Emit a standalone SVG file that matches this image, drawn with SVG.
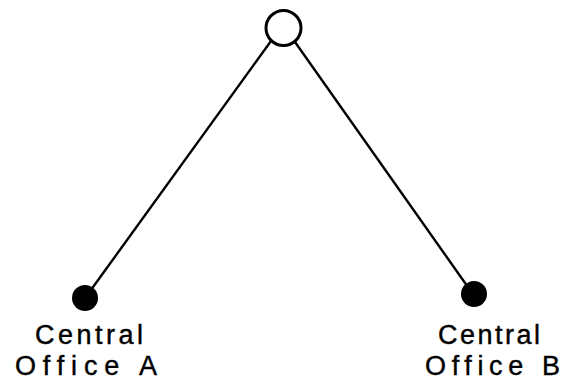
<svg xmlns="http://www.w3.org/2000/svg" width="566" height="381" viewBox="0 0 566 381">
  <style>
    .link { stroke: #000; stroke-width: 2.4; fill: none; }
    .hub { fill: #fff; stroke: #000; stroke-width: 3; }
    .office { fill: #000; }
    .label { font-family: "Liberation Sans", "DejaVu Sans", sans-serif; font-size: 27px; fill: #000; stroke: #000; stroke-width: 0.4; font-variant-ligatures: none; font-feature-settings: "liga" 0; }
  </style>
  <rect width="566" height="381" fill="#fff"/>
  <g id="connectors">
    <line class="link" x1="271" y1="41" x2="88" y2="294"/>
    <line class="link" x1="295" y1="42" x2="470" y2="290"/>
  </g>
  <g id="hub">
    <circle class="hub" cx="283.5" cy="28" r="17.5"/>
  </g>
  <g id="office-a">
    <circle class="office" cx="85" cy="298" r="13"/>
    <text class="label" x="35" y="344" textLength="108" lengthAdjust="spacing">Central</text>
    <text class="label" x="15" y="375" textLength="142" lengthAdjust="spacing">Office A</text>
  </g>
  <g id="office-b">
    <circle class="office" cx="474" cy="294" r="13"/>
    <text class="label" x="438" y="344" textLength="102" lengthAdjust="spacing">Central</text>
    <text class="label" x="425" y="375" textLength="135" lengthAdjust="spacing">Office B</text>
  </g>
</svg>
